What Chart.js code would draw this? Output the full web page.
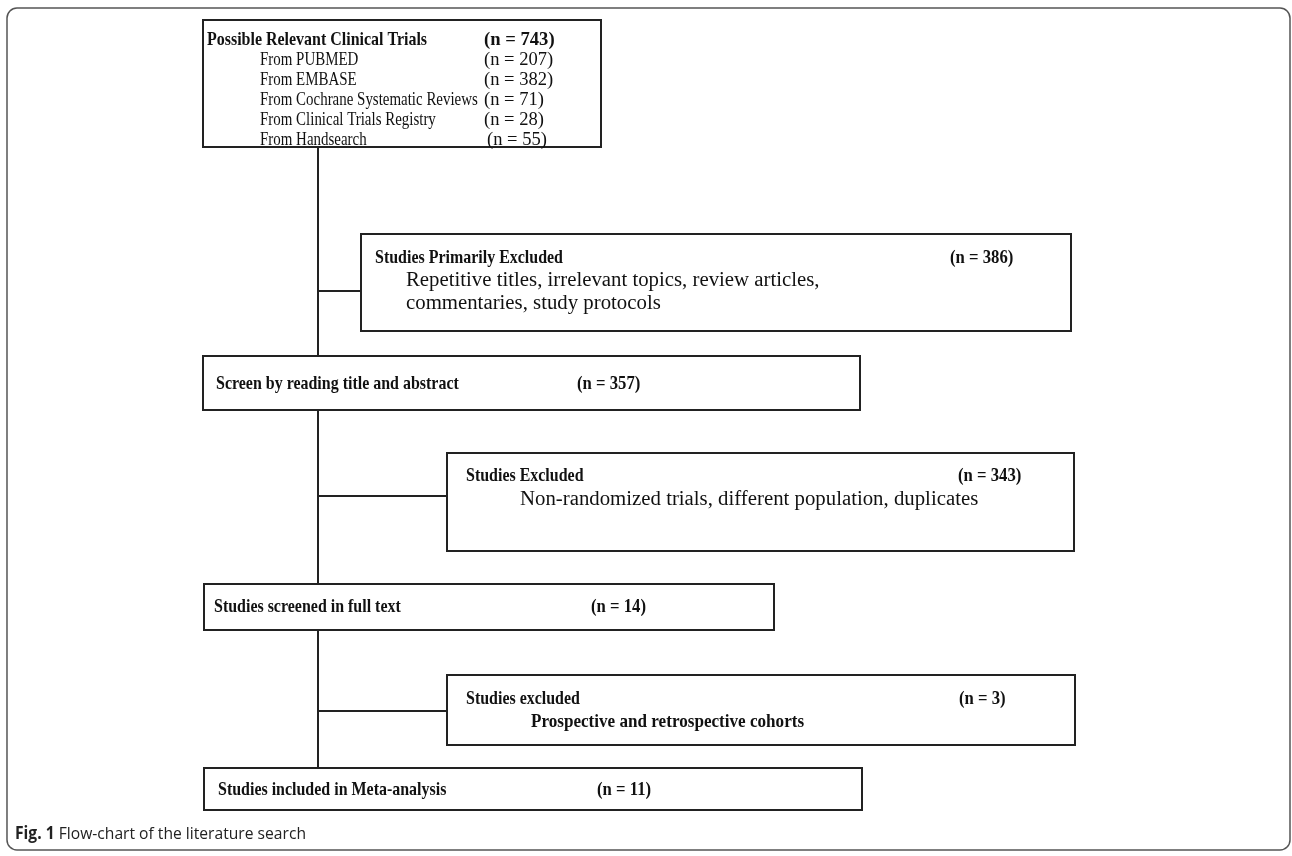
<!DOCTYPE html>
<html>
<head>
<meta charset="utf-8">
<title>Flow-chart of the literature search</title>
<script src="https://cdn.jsdelivr.net/npm/chart.js@4.4.1/dist/chart.umd.min.js"></script>
<style>
  html, body { margin: 0; padding: 0; background: #fff; }
  #wrap { width: 1292px; height: 856px; }
</style>
</head>
<body>
<div id="wrap"><canvas id="flow" width="1292" height="856"></canvas></div>
<script>
// --- data: the search stages, top to bottom ---
const stageTitles = [
  'Possible Relevant Clinical Trials',
  'Studies Primarily Excluded',
  'Screen by reading title and abstract',
  'Studies Excluded',
  'Studies screened in full text',
  'Studies excluded',
  'Studies included in Meta-analysis'
];
const stageCounts = [743, 386, 357, 343, 14, 3, 11];
const stageNotes = [
  [],
  ['Repetitive titles, irrelevant topics, review articles,', 'commentaries, study protocols'],
  [],
  ['Non-randomized trials, different population, duplicates'],
  [],
  ['Prospective and retrospective cohorts'],
  []
];
const sourceNames = [
  'From PUBMED',
  'From EMBASE',
  'From Cochrane Systematic Reviews',
  'From Clinical Trials Registry',
  'From Handsearch'
];
const sourceCounts = [207, 382, 71, 28, 55];
const captionLabel = 'Fig. 1';
const captionText = 'Flow-chart of the literature search';

// --- layout (figure units = pixels of the 1292x856 figure) ---
// ly = y of the branch line for side boxes
const boxes = [
  { x0: 203, y0: 20,  x1: 601,  y1: 147, tx: 207, ty: 40,  cx: 484, nx: 260, gap: 20 },
  { x0: 361, y0: 234, x1: 1071, y1: 331, tx: 375, ty: 258, cx: 950, nx: 406, gap: 23, ly: 291 },
  { x0: 203, y0: 356, x1: 860,  y1: 410, tx: 216, ty: 384, cx: 577 },
  { x0: 447, y0: 453, x1: 1074, y1: 551, tx: 466, ty: 476, cx: 958, nx: 520, gap: 24, ly: 496 },
  { x0: 204, y0: 584, x1: 774,  y1: 630, tx: 214, ty: 607, cx: 591 },
  { x0: 447, y0: 675, x1: 1075, y1: 745, tx: 466, ty: 699, cx: 959, nx: 531, gap: 23, ly: 711, noteBold: true },
  { x0: 204, y0: 768, x1: 862,  y1: 810, tx: 218, ty: 790, cx: 597 }
];
const trunkX = 318;
const branchOf = [1, 3, 5];          // side boxes hanging off the trunk
const mainOf = [0, 2, 4, 6];         // boxes on the trunk
const serif = '"Liberation Serif", "Times New Roman", serif';

// text styles: [font, horizontal squeeze]
const titleStyle = ['bold 19px ' + serif, 0.84];
const countStyle = ['bold 19px ' + serif, 0.88];
const noteStyle = ['20px ' + serif, 1.04];
const boldNoteStyle = ['bold 19px ' + serif, 0.9];
const sourceStyle = ['18px ' + serif, 0.83];
const sourceCountStyle = ['18px ' + serif, 1.03];
const topCountStyle = ['bold 19px ' + serif, 0.98];

// trunk segments between main boxes, and branches to the side boxes
const lineSets = [];
for (let i = 0; i < mainOf.length - 1; i++) {
  const a = boxes[mainOf[i]], b = boxes[mainOf[i + 1]];
  lineSets.push([{ x: trunkX, y: a.y1 }, { x: trunkX, y: b.y0 }]);
}
branchOf.forEach(i => {
  const b = boxes[i];
  lineSets.push([{ x: trunkX, y: b.ly }, { x: b.x0, y: b.ly }]);
});

function squeezedText(ctx, str, x, y, style) {
  ctx.save();
  ctx.font = style[0];
  ctx.translate(x, y);
  ctx.scale(style[1], 1);
  ctx.fillText(str, 0, 0);
  ctx.restore();
}

const flowPlugin = {
  id: 'flowBoxes',
  afterDatasetsDraw(chart) {
    const { ctx, scales: { x, y } } = chart;
    const px = v => x.getPixelForValue(v);
    const py = v => y.getPixelForValue(v);
    ctx.save();

    // outer frame of the figure
    ctx.strokeStyle = '#555';
    ctx.lineWidth = 1.5;
    ctx.beginPath();
    ctx.roundRect(px(7), py(8), px(1290) - px(7), py(850) - py(8), 10);
    ctx.stroke();

    ctx.fillStyle = '#111';
    ctx.textBaseline = 'middle';
    boxes.forEach((b, i) => {
      ctx.strokeStyle = '#222';
      ctx.lineWidth = 2;
      ctx.strokeRect(px(b.x0), py(b.y0), px(b.x1) - px(b.x0), py(b.y1) - py(b.y0));
      squeezedText(ctx, stageTitles[i], px(b.tx), py(b.ty), titleStyle);
      squeezedText(ctx, '(n = ' + stageCounts[i] + ')', px(b.cx), py(b.ty), i === 0 ? topCountStyle : countStyle);
      stageNotes[i].forEach((t, k) => {
        squeezedText(ctx, t, px(b.nx), py(b.ty + b.gap * (k + 1)), b.noteBold ? boldNoteStyle : noteStyle);
      });
      if (i === 0) {
        sourceNames.forEach((s, k) => {
          const yy = py(b.ty + b.gap * (k + 1));
          squeezedText(ctx, s, px(b.nx), yy, sourceStyle);
          squeezedText(ctx, '(n = ' + sourceCounts[k] + ')', px(b.cx + (k === 4 ? 3 : 0)), yy, sourceCountStyle);
        });
      }
    });

    // caption
    ctx.fillStyle = '#222';
    const capFont = '17px "Open Sans", "Noto Sans", sans-serif';
    ctx.font = 'bold ' + capFont;
    const w = ctx.measureText(captionLabel + ' ').width * 0.92;
    squeezedText(ctx, captionLabel, px(15), py(834), ['bold ' + capFont, 0.92]);
    squeezedText(ctx, captionText, px(15) + w, py(834), [capFont, 0.92]);
    ctx.restore();
  }
};

new Chart(document.getElementById('flow'), {
  type: 'scatter',
  data: {
    datasets: lineSets.map(pts => ({
      data: pts,
      showLine: true,
      borderColor: '#222',
      borderWidth: 2,
      pointRadius: 0,
      fill: false
    }))
  },
  options: {
    responsive: false,
    animation: false,
    layout: { padding: 0 },
    plugins: { legend: { display: false }, tooltip: { enabled: false } },
    scales: {
      x: { type: 'linear', min: 0, max: 1292, display: false },
      y: { type: 'linear', min: 0, max: 856, reverse: true, display: false }
    }
  },
  plugins: [flowPlugin]
});
</script>
</body>
</html>
